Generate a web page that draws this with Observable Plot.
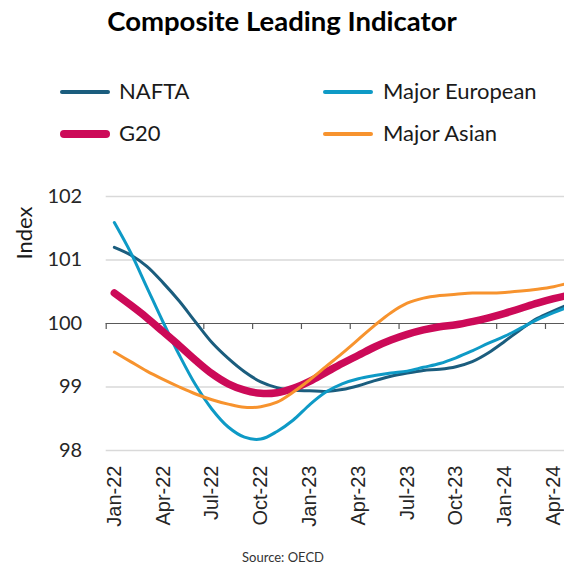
<!DOCTYPE html>
<html>
<head>
<meta charset="utf-8">
<script src="https://cdn.jsdelivr.net/npm/d3@7"></script>
<script src="https://cdn.jsdelivr.net/npm/@observablehq/plot@0.6"></script>
<style>
  body { margin: 0; background: #fff; }
  #wrap { position: relative; width: 564px; height: 568px; overflow: hidden; font-family: Lato, "Open Sans", sans-serif; color: #000; }
  #title { position: absolute; left: 282px; top: 7px; transform: translateX(-50%); white-space: nowrap; font-weight: bold; font-size: 27.5px; line-height: 28px; }
  .swatch { position: absolute; border-radius: 5px; }
  .ltxt { position: absolute; white-space: nowrap; font-size: 22px; line-height: 22px; color: #1a1a1a; }
  #source { position: absolute; left: 283px; top: 550px; transform: translateX(-50%); font-size: 13px; line-height: 14px; color: #333; white-space: nowrap; }
  #chart { position: absolute; left: 0; top: 0; }
</style>
</head>
<body>
<div id="wrap">
  <div id="chart"></div>
  <div id="title">Composite Leading Indicator</div>
  <div id="legend"></div>
  <div id="source">Source: OECD</div>
</div>
<script>
// ---- data ----
const months = ["Jan-22","Feb-22","Mar-22","Apr-22","May-22","Jun-22","Jul-22","Aug-22","Sep-22","Oct-22","Nov-22","Dec-22",
                "Jan-23","Feb-23","Mar-23","Apr-23","May-23","Jun-23","Jul-23","Aug-23","Sep-23","Oct-23","Nov-23","Dec-23",
                "Jan-24","Feb-24","Mar-24","Apr-24","May-24"];
const xTickLabels = ["Jan-22","Apr-22","Jul-22","Oct-22","Jan-23","Apr-23","Jul-23","Oct-23","Jan-24","Apr-24"];
const yTicks = [98, 99, 100, 101, 102];
const seriesNames = ["NAFTA", "Major European", "G20", "Major Asian"];
const nafta = [101.20,101.08,100.90,100.64,100.35,100.02,99.70,99.45,99.24,99.08,98.99,98.95,
               98.94,98.93,98.96,99.02,99.10,99.17,99.22,99.26,99.28,99.32,99.40,99.54,
               99.72,99.91,100.08,100.20,100.31];
const majorEuropean = [101.59,101.12,100.57,100.02,99.50,99.03,98.65,98.37,98.21,98.18,98.30,98.48,
               98.72,98.92,99.05,99.13,99.18,99.22,99.25,99.31,99.37,99.46,99.57,99.69,
               99.80,99.93,100.06,100.17,100.27];
const g20 = [100.48,100.29,100.09,99.87,99.65,99.42,99.21,99.05,98.95,98.90,98.91,98.98,
               99.09,99.23,99.37,99.50,99.63,99.74,99.83,99.90,99.95,99.98,100.03,100.09,
               100.16,100.24,100.32,100.39,100.45];
const majorAsian = [99.55,99.40,99.25,99.12,99.00,98.89,98.80,98.73,98.68,98.69,98.76,98.92,
               99.11,99.32,99.53,99.75,99.97,100.17,100.32,100.40,100.44,100.46,100.48,100.48,
               100.49,100.51,100.54,100.58,100.64];

// ---- styles ----
const colors = ["#1b5d7e", "#0e9ac6", "#cc0a58", "#f7932e"];
const widths = [3, 3, 7.5, 3];
const seriesValues = [nafta, majorEuropean, g20, majorAsian];

const table = seriesNames.flatMap((name, s) =>
  seriesValues[s].map((v, i) => ({ name, i, month: months[i], v })));

const monthIndex = months.map((m, i) => i);
const labelIdx = xTickLabels.map(l => months.indexOf(l));
const boundaries = monthIndex.filter(i => i % 3 === 0).map(i => i - 0.5);

const W = 564, H = 568;
const mLeft = 105.7, mTop = 196, mBottom = 118;
const monthPx = 16.27;
const xMax = -0.5 + (W - mLeft) / monthPx;
const tickLen = 6 / ((H - mTop - mBottom) / 4);

const marks = [
  Plot.ruleY(yTicks.filter(t => t !== 100), { stroke: "#d9d9d9", strokeWidth: 1.6 }),
  Plot.ruleY([100], { stroke: "#595959", strokeWidth: 1.2 }),
  Plot.ruleX(boundaries, { x: d => d, y1: () => 100, y2: () => 100 - tickLen, stroke: "#595959", strokeWidth: 1.2 }),
  Plot.axisY(yTicks, { tickSize: 0, tickPadding: 24, fontSize: 20, fontFamily: "Lato", fill: "#262626", label: null,
     tickFormat: d => String(d) }),
  Plot.axisX(labelIdx, { tickSize: 0, tickPadding: 15, tickRotate: -90, textAnchor: "end",
     tickFormat: i => months[i], fontSize: 20, fontFamily: "Liberation Sans", fill: "#262626", label: null }),
  Plot.text(["Index"], { text: d => d, frameAnchor: "top-left", dx: -81, dy: 36.5, rotate: -90,
     textAnchor: "middle", lineAnchor: "middle",
     fontSize: 22, fontFamily: "Lato", fill: "#1a1a1a" })
];
seriesNames.forEach((name, s) => {
  marks.push(Plot.lineY(table.filter(d => d.name === name), {
    x: "i", y: "v", stroke: colors[s], strokeWidth: widths[s], curve: "catmull-rom", clip: true
  }));
});

const chart = Plot.plot({
  width: W, height: H,
  marginLeft: mLeft, marginRight: 0, marginTop: mTop, marginBottom: mBottom,
  x: { type: "linear", domain: [-0.5, xMax], axis: null },
  y: { domain: [98, 102], axis: null },
  style: { background: "transparent", overflow: "hidden" },
  marks
});
document.getElementById("chart").appendChild(chart);

// ---- legend ----
const legendPos = [
  { lx: 60, tx: 119, y: 92 },
  { lx: 323, tx: 383, y: 92 },
  { lx: 60, tx: 119, y: 134 },
  { lx: 323, tx: 383, y: 134 }
];
const legend = document.getElementById("legend");
seriesNames.forEach((name, s) => {
  const p = legendPos[s];
  const sw = document.createElement("div");
  sw.className = "swatch";
  const h = s === 2 ? 8 : 4;
  sw.style.left = p.lx + "px";
  sw.style.width = "50px";
  sw.style.top = (p.y - h / 2) + "px";
  sw.style.height = h + "px";
  sw.style.background = colors[s];
  legend.appendChild(sw);
  const t = document.createElement("div");
  t.className = "ltxt";
  t.textContent = name;
  t.style.left = p.tx + "px";
  t.style.top = (p.y - 11.6) + "px";
  legend.appendChild(t);
});
</script>
</body>
</html>
